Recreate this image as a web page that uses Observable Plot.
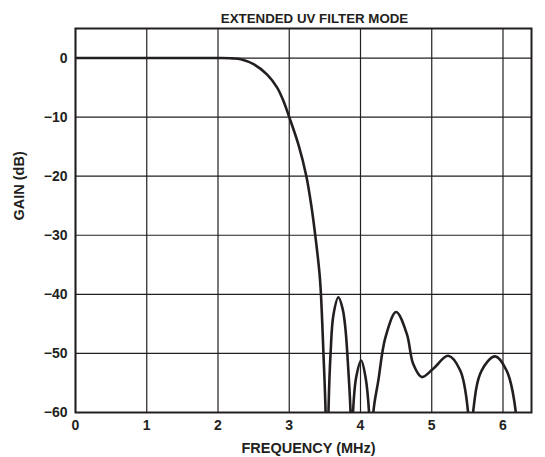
<!DOCTYPE html>
<html>
<head>
<meta charset="utf-8">
<script src="https://cdn.jsdelivr.net/npm/d3@7"></script>
<script src="https://cdn.jsdelivr.net/npm/@observablehq/plot@0.6"></script>
<style>
  html, body { margin: 0; padding: 0; background: #fff; }
  #chart { width: 545px; height: 457px; }
</style>
</head>
<body>
<div id="chart"></div>
<script>
const title = "EXTENDED UV FILTER MODE";
const xLabel = "FREQUENCY (MHz)";
const yLabel = "GAIN (dB)";
const xTicks = [0, 1, 2, 3, 4, 5, 6];
const yTicks = [0, -10, -20, -30, -40, -50, -60];

// Frequency response (MHz, dB); nulls dip below -60 and are clipped
const freq = [0, 0.5, 1.0, 1.5, 2.0, 2.2, 2.32, 2.5, 2.69, 2.83, 2.92, 3.0, 3.13, 3.24, 3.31, 3.365, 3.425, 3.445, 3.48, 3.51, 3.53,
  3.55, 3.58, 3.62, 3.69, 3.75, 3.79, 3.83, 3.86, 3.875,
  3.895, 3.94, 4.01, 4.07, 4.12, 4.15,
  4.18, 4.25, 4.35, 4.50, 4.65, 4.74, 4.86, 5.02, 5.23, 5.40, 5.51, 5.545,
  5.58, 5.70, 5.89, 6.05, 6.18, 6.21];
const gain = [0, 0, 0, 0, 0, -0.05, -0.2, -1.05, -2.8, -5.0, -7.3, -10, -14.7, -20, -25, -30, -36.5, -40, -50, -60, -80,
  -60, -50, -43.5, -40.5, -42.5, -46, -53, -60, -75,
  -60, -54, -51.2, -54, -60, -75,
  -60, -54.6, -47.3, -43.0, -46.7, -51.8, -54.0, -52.6, -50.4, -52.9, -60, -75,
  -60, -52.9, -50.5, -52.9, -60, -75];

const data = freq.map((f, i) => ({f, g: gain[i]}));
const font = "'Liberation Sans', Arial, Helvetica, sans-serif";
const ink = "#231f20";

const chart = Plot.plot({
  width: 545,
  height: 457,
  marginLeft: 75,
  marginRight: 14,
  marginTop: 28,
  marginBottom: 45,
  style: {fontFamily: font, fontWeight: "bold", fontSize: "14px", color: ink, background: "#fff"},
  x: {domain: [0, 6.4]},
  y: {domain: [-60, 5]},
  marks: [
    Plot.gridX(xTicks, {stroke: ink, strokeOpacity: 1, strokeWidth: 1.2}),
    Plot.gridY(yTicks, {stroke: ink, strokeOpacity: 1, strokeWidth: 1.2}),
    Plot.axisX(xTicks, {tickSize: 0, tickPadding: 8, label: null, fontSize: 14, fontWeight: "bold"}),
    Plot.axisY(yTicks, {tickSize: 0, tickPadding: 8, label: null, fontSize: 14, fontWeight: "bold"}),
    Plot.line(data, {x: "f", y: "g", curve: "catmull-rom", stroke: ink, strokeWidth: 2.6, clip: true}),
    Plot.frame({stroke: ink, strokeWidth: 2}),
    Plot.text([title], {frameAnchor: "top", dy: -15, dx: 11, fontSize: 13.3, fontWeight: "bold", fill: ink}),
    Plot.text([xLabel], {frameAnchor: "bottom", dy: 40, dx: 5, fontSize: 14.5, fontWeight: "bold", fill: ink}),
    Plot.text([yLabel], {frameAnchor: "left", dx: -56, rotate: -90, fontSize: 14.5, fontWeight: "bold", fill: ink})
  ]
});
document.getElementById("chart").appendChild(chart);
</script>
</body>
</html>
